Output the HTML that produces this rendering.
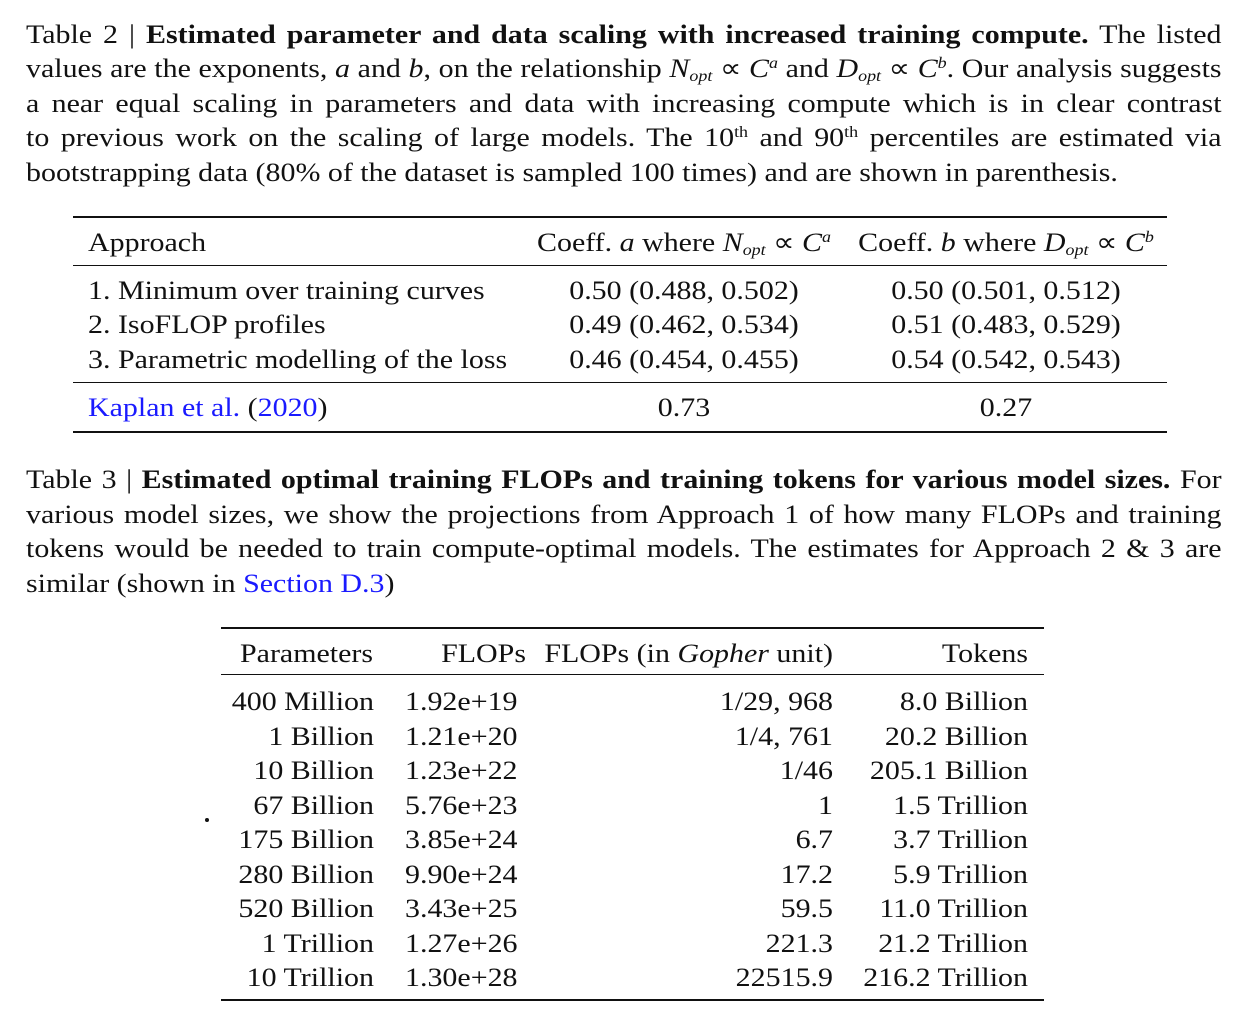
<!DOCTYPE html>
<html><head><meta charset="utf-8"><style>
body{margin:0;width:1256px;height:1024px;background:#fff;position:relative;overflow:hidden;font-family:"Liberation Serif",serif;font-size:26.5px;color:#111}
.l{position:absolute;white-space:nowrap;line-height:34px;height:34px;transform-origin:left center;transform:scaleX(1.13)}
.j{position:absolute;left:26px;width:1058px;line-height:34px;text-align:justify;text-align-last:justify;white-space:nowrap;transform-origin:left center;transform:scaleX(1.13)}
.r{position:absolute;background:#111}
.l.c{transform-origin:center center;transform:translateX(-50%) scaleX(1.13)}
.l.rt{transform-origin:right center;transform:translateX(-100%) scaleX(1.13)}
sub{font-size:60%;vertical-align:-4px;line-height:0}
sup{font-size:60%;vertical-align:9px;line-height:0}
a{color:#1a1aff;text-decoration:none}
i{font-style:italic}
</style></head><body>
<div>
<div class="j" style="top:17px">Table 2 | <b>Estimated parameter and data scaling with increased training compute.</b> The listed</div>
<div class="j" style="top:51px">values are the exponents, <i>a</i> and <i>b</i>, on the relationship <i>N<sub>opt</sub></i> ∝ <i>C<sup>a</sup></i> and <i>D<sub>opt</sub></i> ∝ <i>C<sup>b</sup></i>. Our analysis suggests</div>
<div class="j" style="top:86px">a near equal scaling in parameters and data with increasing compute which is in clear contrast</div>
<div class="j" style="top:120px">to previous work on the scaling of large models. The 10<sup>th</sup> and 90<sup>th</sup> percentiles are estimated via</div>
<div class="j" style="top:155px;text-align-last:left">bootstrapping data (80% of the dataset is sampled 100 times) and are shown in parenthesis.</div>
</div>
<div>
<div class="r" style="left:73px;top:216px;width:1094px;height:2px"></div>
<div class="r" style="left:73px;top:265px;width:1094px;height:1px"></div>
<div class="r" style="left:73px;top:382px;width:1094px;height:1px"></div>
<div class="r" style="left:73px;top:431px;width:1094px;height:2px"></div>
<div class="l" style="left:88px;top:225px">Approach</div>
<div class="l c" style="left:684px;top:225px">Coeff. <i>a</i> where <i>N<sub>opt</sub></i> ∝ <i>C<sup>a</sup></i></div>
<div class="l c" style="left:1006px;top:225px">Coeff. <i>b</i> where <i>D<sub>opt</sub></i> ∝ <i>C<sup>b</sup></i></div>
<div class="l" style="left:88px;top:273px">1. Minimum over training curves</div>
<div class="l" style="left:88px;top:307px">2. IsoFLOP profiles</div>
<div class="l" style="left:88px;top:342px">3. Parametric modelling of the loss</div>
<div class="l c" style="left:684px;top:273px">0.50 (0.488, 0.502)</div>
<div class="l c" style="left:684px;top:307px">0.49 (0.462, 0.534)</div>
<div class="l c" style="left:684px;top:342px">0.46 (0.454, 0.455)</div>
<div class="l c" style="left:1006px;top:273px">0.50 (0.501, 0.512)</div>
<div class="l c" style="left:1006px;top:307px">0.51 (0.483, 0.529)</div>
<div class="l c" style="left:1006px;top:342px">0.54 (0.542, 0.543)</div>
<div class="l" style="left:88px;top:390px"><a>Kaplan et al.</a> (<a>2020</a>)</div>
<div class="l c" style="left:684px;top:390px">0.73</div>
<div class="l c" style="left:1006px;top:390px">0.27</div>
</div>
<div>
<div class="j" style="top:462px">Table 3 | <b>Estimated optimal training FLOPs and training tokens for various model sizes.</b> For</div>
<div class="j" style="top:497px">various model sizes, we show the projections from Approach 1 of how many FLOPs and training</div>
<div class="j" style="top:531px">tokens would be needed to train compute-optimal models. The estimates for Approach 2 &amp; 3 are</div>
<div class="j" style="top:566px;text-align-last:left">similar (shown in <a>Section D.3</a>)</div>
</div>
<div>
<div class="r" style="left:221px;top:627px;width:823px;height:2px"></div>
<div class="r" style="left:221px;top:674px;width:823px;height:1px"></div>
<div class="r" style="left:221px;top:999px;width:823px;height:2px"></div>
<div class="l" style="left:240px;top:636px">Parameters</div>
<div class="l rt" style="left:526px;top:636px">FLOPs</div>
<div class="l rt" style="left:833px;top:636px">FLOPs (in <i>Gopher</i> unit)</div>
<div class="l rt" style="left:1028px;top:636px">Tokens</div>
<div id="rows"></div>
<div style="position:absolute;left:205px;top:818px;width:4px;height:4px;border-radius:2px;background:#111"></div>
</div>
<script>
const params=["400 Million","1 Billion","10 Billion","67 Billion","175 Billion","280 Billion","520 Billion","1 Trillion","10 Trillion"];
const flops=["1.92e+19","1.21e+20","1.23e+22","5.76e+23","3.85e+24","9.90e+24","3.43e+25","1.27e+26","1.30e+28"];
const gopher=["1/29, 968","1/4, 761","1/46","1","6.7","17.2","59.5","221.3","22515.9"];
const tokens=["8.0 Billion","20.2 Billion","205.1 Billion","1.5 Trillion","3.7 Trillion","5.9 Trillion","11.0 Trillion","21.2 Trillion","216.2 Trillion"];
const host=document.getElementById('rows');
params.forEach((p,i)=>{
  const top=684+i*34.5;
  const cells=[[p,374,'rt'],[flops[i],405,''],[gopher[i],833,'rt'],[tokens[i],1028,'rt']];
  cells.forEach(([t,x,c],k)=>{
    const d=document.createElement('div');
    d.className='l '+c;
    d.style.left=x+'px';d.style.top=top+'px';
    d.textContent=t;
    
    
    host.appendChild(d);
  });
});
</script>
</body></html>
